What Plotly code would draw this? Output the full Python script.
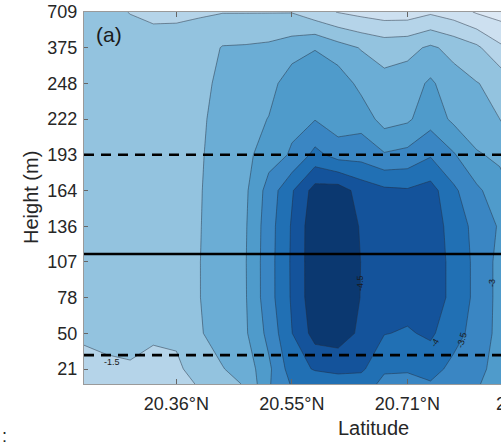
import plotly.graph_objects as go

# grid columns (latitude index) and rows (height level index; 0.58 = bottom edge row)
lat_index = list(range(20))
height_index = [0.58, 1, 2, 3, 4, 5, 6, 7, 8, 9, 10, 11]

# values per column (k0..k19), each listing rows bottom -> top
col_vals = [
    [-1.2, -1.3, -1.6, -1.7, -1.75, -1.8, -1.8, -1.8, -1.8, -1.75, -1.7, -1.6],
    [-1.3, -1.4, -1.65, -1.72, -1.78, -1.82, -1.83, -1.83, -1.82, -1.78, -1.7, -1.58],
    [-1.3, -1.45, -1.65, -1.75, -1.8, -1.85, -1.86, -1.86, -1.85, -1.8, -1.65, -1.49],
    [-1.2, -1.3, -1.6, -1.75, -1.82, -1.87, -1.88, -1.88, -1.87, -1.82, -1.7, -1.4],
    [-1.3, -1.38, -1.62, -1.8, -1.86, -1.9, -1.9, -1.9, -1.89, -1.85, -1.72, -1.4],
    [-1.55, -1.78, -1.96, -1.99, -1.99, -1.98, -1.97, -1.95, -1.92, -1.88, -1.75, -1.45],
    [-1.8, -1.98, -2.2, -2.23, -2.24, -2.23, -2.22, -2.2, -2.17, -2.1, -2.03, -1.48],
    [-2.05, -2.2, -2.44, -2.47, -2.48, -2.46, -2.42, -2.35, -2.28, -2.2, -2.05, -1.48],
    [-2.95, -2.9, -3.15, -3.3, -3.3, -3.28, -3.2, -2.8, -2.52, -2.3, -2.1, -1.48],
    [-3.55, -3.75, -3.99, -4.06, -4.07, -4.05, -3.95, -3.05, -2.9, -2.8, -2.25, -1.48],
    [-3.6, -4.05, -4.7, -4.85, -4.85, -4.85, -4.7, -3.65, -2.98, -2.75, -2.48, -1.2],
    [-3.7, -4.15, -4.75, -4.88, -4.9, -4.9, -4.75, -3.3, -2.7, -2.8, -2.2, -0.98],
    [-3.7, -4.1, -4.4, -4.48, -4.49, -4.45, -4.3, -3.3, -2.8, -2.35, -1.97, -0.85],
    [-3.4, -3.55, -4.02, -4.35, -4.35, -4.3, -4.1, -3.05, -2.3, -2.15, -1.8, -0.75],
    [-3.35, -3.55, -3.95, -4.2, -4.25, -4.2, -4.05, -3.15, -2.42, -2.25, -1.85, -0.75],
    [-3.45, -3.7, -4.08, -4.2, -4.2, -4.2, -4.2, -3.45, -2.8, -2.58, -2.08, -0.92],
    [-3.15, -3.35, -3.7, -3.9, -3.9, -3.85, -3.6, -3.05, -2.4, -2.2, -1.85, -0.75],
    [-3.05, -3.15, -3.3, -3.35, -3.35, -3.3, -3.1, -2.55, -2.2, -2.02, -1.6, -0.45],
    [-2.75, -2.8, -2.85, -2.85, -2.85, -2.95, -2.7, -2.4, -2.0, -1.85, -1.1, -0.3],
    [-2.4, -2.45, -2.55, -2.55, -2.55, -2.55, -2.3, -2.0, -1.7, -1.4, -0.8, -0.2],
]

lat_tick_pos = [4, 9, 14]
lat_tick_text = ["20.36°N", "20.55°N", "20.71°N"]
next_lat_text = "20.87°N"
height_tick_pos = [1, 2, 3, 4, 5, 6, 7, 8, 9, 10, 11]
height_tick_text = ["21", "50", "78", "107", "136", "164", "193", "222", "248", "375", "709"]

layer_top = 7.0
layer_mid = 4.22
layer_bottom = 1.39

band_colors = ["#0b3870", "#14539b", "#2170b4", "#3a86c3", "#4f9bcb",
               "#6badd5", "#93c3df", "#b5d4e9", "#cde0f0", "#dde9f5"]

z = [[col_vals[k][j] for k in range(len(lat_index))] for j in range(len(height_index))]

cscale = []
n = len(band_colors)
for i, c in enumerate(band_colors):
    cscale.append([i / n, c])
    cscale.append([(i + 1) / n, c])

fig = go.Figure()
fig.add_trace(go.Contour(
    x=lat_index, y=height_index, z=z,
    contours=dict(start=-4.5, end=-0.5, size=0.5, coloring="fill", showlabels=False),
    colorscale=cscale, zmin=-4.75, zmax=-0.25, zauto=False,
    line=dict(width=0.6, color="rgba(35,45,60,0.8)", smoothing=0),
    showscale=False, hoverinfo="skip",
))

for yv, dash in [(layer_top, "10px,7px"), (layer_bottom, "10px,7px"), (layer_mid, "solid")]:
    fig.add_shape(type="line", xref="paper", x0=0, x1=1, yref="y", y0=yv, y1=yv,
                  line=dict(color="black", width=2.6, dash=dash))

font_family = "Liberation Sans, Arial, sans-serif"
labels = [("-1.5", 1.21, 1.2, 0), ("-4.5", 11.95, 3.41, -90), ("-4", 15.19, 1.73, -60),
          ("-3.5", 16.36, 1.81, -75), ("-3", 17.66, 3.41, -90)]
for t, xv, yv, ang in labels:
    fig.add_annotation(x=xv, y=yv, xref="x", yref="y", text=t, showarrow=False,
                       xanchor="center", yanchor="middle",
                       textangle=ang, font=dict(size=9, color="#1a1a1a", family=font_family))

W, H = 501, 442
L, R, T, B = 84, 0, 12, 58
pw, ph = W - L - R, H - T - B

def px(x):
    return (x - L) / pw

def py(y):
    return (H - B - y) / ph

def add_text(text, x, y, size, color="#262626", angle=0, xanchor="center"):
    fig.add_annotation(x=px(x), y=py(y), xref="paper", yref="paper", text=text, showarrow=False,
                       xanchor=xanchor, yanchor="middle", textangle=angle,
                       font=dict(size=size, color=color, family=font_family))

add_text("(a)", 109, 35, 21, color="#1a1a1a")
add_text("Latitude", 373, 428, 20)
add_text("Height (m)", 31, 198, 20, angle=-90)
add_text(next_lat_text, 528, 404, 18)
add_text(":", 0, 436, 18, xanchor="left")

fig.update_layout(
    width=W, height=H, margin=dict(l=L, r=R, t=T, b=B, autoexpand=False),
    paper_bgcolor="white", plot_bgcolor="white", showlegend=False,
    font=dict(family=font_family, size=18, color="#262626"),
)
fig.update_xaxes(range=[0, pw / 23.1], tickvals=lat_tick_pos, ticktext=lat_tick_text,
                 ticks="inside", ticklen=5, tickcolor="#666", showline=True, linecolor="#9a9a9a",
                 linewidth=1, mirror="ticks", showgrid=False, zeroline=False, automargin=False,
                 ticklabelstandoff=3, tickfont=dict(size=18, color="#262626"))
fig.update_yaxes(range=[0.58, 11], tickvals=height_tick_pos, ticktext=height_tick_text,
                 ticks="inside", ticklen=4, tickcolor="#666", showline=True, linecolor="#9a9a9a",
                 linewidth=1, mirror=False, showgrid=False, zeroline=False, automargin=False,
                 ticklabelstandoff=2, tickfont=dict(size=18, color="#262626"))

fig.write_html("out.html", config={"displayModeBar": False},
               post_script="document.body.style.margin='0';")
